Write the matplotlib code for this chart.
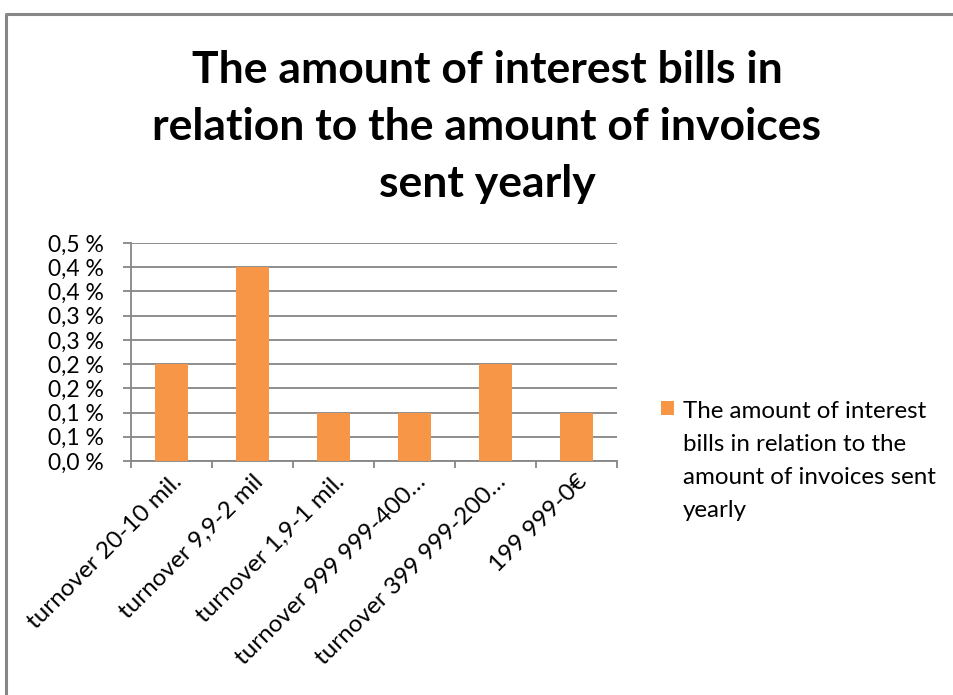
import matplotlib
matplotlib.use("Agg")
import matplotlib.pyplot as plt
from matplotlib.lines import Line2D

# data
categories = [
    "turnover 20-10 mil.",
    "turnover 9,9-2 mil",
    "turnover 1,9-1 mil.",
    "turnover 999 999-400…",
    "turnover 399 999-200…",
    "199 999-0€",
]
values = [0.20, 0.40, 0.10, 0.10, 0.20, 0.10]  # percent
y_ticks = [0.0, 0.05, 0.10, 0.15, 0.20, 0.25, 0.30, 0.35, 0.40, 0.45]
y_labels = ["0,0 %", "0,1 %", "0,1 %", "0,2 %", "0,2 %",
            "0,3 %", "0,3 %", "0,4 %", "0,4 %", "0,5 %"]
series_name = "The amount of interest\nbills in relation to the\namount of invoices sent\nyearly"
title = "The amount of interest bills in\nrelation to the amount of invoices\nsent yearly"

plt.rcParams['font.family'] = ['Lato', 'DejaVu Sans']

W, H = 954, 695
fig = plt.figure(figsize=(W / 100, H / 100), dpi=100)
ax = fig.add_axes([131 / W, 1 - 461 / H, (617 - 131) / W, (461 - 243) / H])

grid_col = "#868686"
x = list(range(len(categories)))
ax.bar(x, values, width=0.4, color="#F79646", label=series_name, zorder=3)

ax.set_xlim(-0.5, len(categories) - 0.5)
ax.set_ylim(0, y_ticks[-1])
ax.set_yticks(y_ticks)
ax.set_yticklabels(y_labels, fontsize=16.5)
ax.yaxis.grid(True, color=grid_col, linewidth=1.3, zorder=0)

# category ticks sit between bars, names sit under the bars
ax.set_xticks([i - 0.5 for i in range(len(categories) + 1)])
ax.set_xticklabels([])
ax.set_xticks(x, minor=True)
ax.set_xticklabels(categories, minor=True, rotation=45, ha="right",
                   va="top", rotation_mode="anchor", fontsize=17.5)
ax.tick_params(axis="x", which="minor", length=0, pad=7)
ax.tick_params(axis="x", which="major", length=5, width=1.3, color=grid_col)
ax.tick_params(axis="y", length=5.5, width=1.3, color=grid_col, pad=14)

for side in ["top", "right"]:
    ax.spines[side].set_visible(False)
for side in ["left", "bottom"]:
    ax.spines[side].set_color(grid_col)
    ax.spines[side].set_linewidth(1.3)

fig.text(487 / W, 1 - 50 / H, title, ha="center", va="top",
         fontsize=32, fontweight="bold", linespacing=1.52)

leg = fig.legend(loc="upper left", bbox_to_anchor=(661 / W, 1 - 401 / H),
                 frameon=False, fontsize=17.4, handlelength=0.52,
                 handleheight=0.52, handletextpad=0.4, labelspacing=0,
                 borderpad=0, borderaxespad=0)
for t in leg.get_texts():
    t.set_linespacing(1.7)
# put the swatch level with the first line of the label
for col in leg._legend_handle_box.get_children():
    for item in col.get_children():
        item.align = "top"

# chart-area border (left and top edges)
border = Line2D([6 / W, 6 / W, 1.0], [0.0, 1 - 14 / H, 1 - 14 / H],
                transform=fig.transFigure, color="#878787", linewidth=2.2)
fig.add_artist(border)

fig.savefig("out.png", dpi=100)
